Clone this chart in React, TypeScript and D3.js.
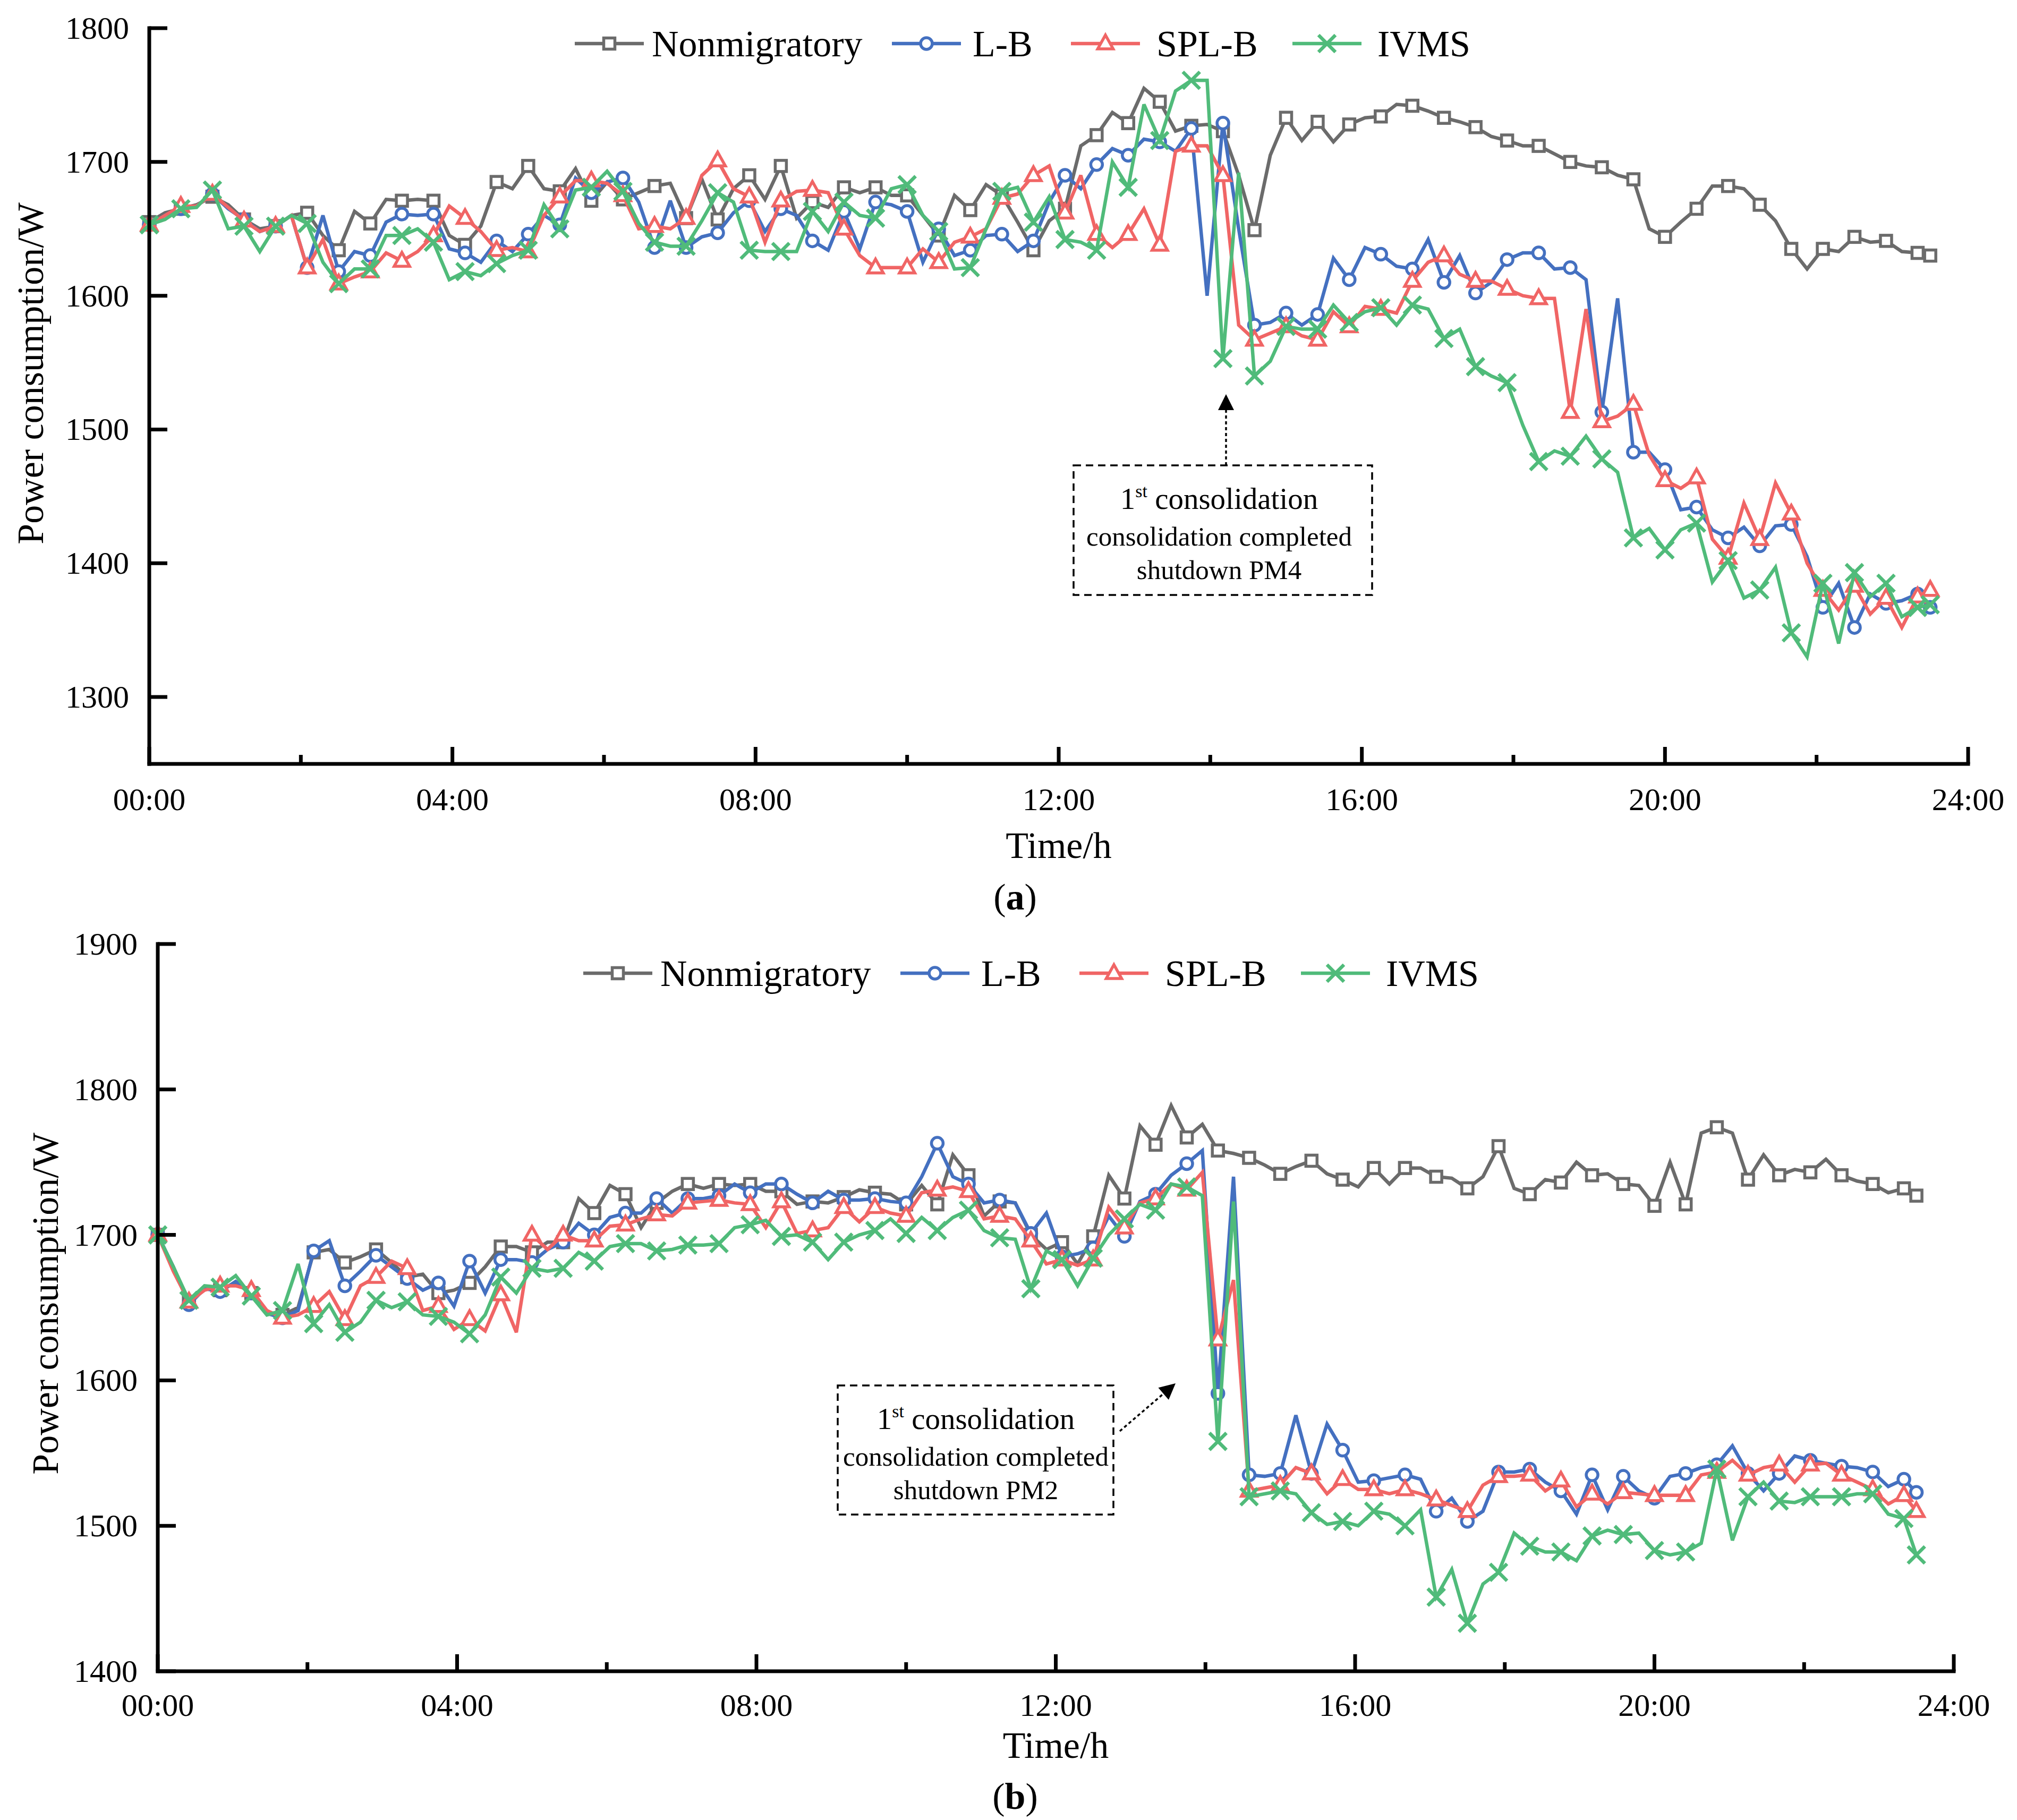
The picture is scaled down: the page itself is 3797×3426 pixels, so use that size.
import React from "react";
import * as d3 from "d3";

// ---------- data ----------
const STEP_MIN = 12.5; // sampling step (minutes)
const LAST_MIN = 1410; // last sample (23:30)
const xTickLabels = ["00:00", "04:00", "08:00", "12:00", "16:00", "20:00", "24:00"];
const seriesNames = ["Nonmigratory", "L-B", "SPL-B", "IVMS"];
const aYTicks = [1300, 1400, 1500, 1600, 1700, 1800];
const bYTicks = [1400, 1500, 1600, 1700, 1800, 1900];

const aNon = [1655,1662,1665,1668,1674,1668,1657,1650,1652,1660,
1662,1645,1634,1663,1654,1672,1671,1672,1671,1645,
1638,1652,1685,1680,1697,1680,1678,1695,1671,1685,
1672,1677,1682,1684,1658,1687,1657,1680,1690,1672,
1697,1658,1670,1666,1681,1677,1681,1675,1675,1660,
1645,1675,1664,1683,1675,1655,1634,1656,1665,1712,
1720,1737,1729,1755,1745,1723,1727,1728,1723,1690,
1649,1705,1733,1716,1730,1715,1728,1733,1734,1743,
1742,1738,1733,1730,1726,1719,1716,1712,1712,1706,
1700,1697,1696,1690,1687,1650,1644,1655,1665,1682,
1682,1680,1668,1656,1635,1620,1635,1633,1644,1640,
1641,1633,1632,1630];
const aLB = [1653,1660,1665,1667,1676,1665,1657,1648,1652,1660,
1621,1660,1618,1633,1630,1655,1661,1660,1661,1635,
1632,1625,1641,1633,1646,1660,1653,1688,1677,1685,
1688,1670,1636,1671,1636,1644,1647,1662,1671,1648,
1665,1660,1641,1634,1663,1635,1670,1668,1663,1625,
1650,1630,1634,1645,1646,1633,1641,1670,1690,1680,
1698,1710,1705,1717,1715,1708,1725,1600,1729,1650,
1578,1580,1587,1578,1586,1628,1612,1636,1631,1622,
1620,1642,1610,1630,1602,1610,1627,1632,1632,1620,
1621,1612,1513,1598,1483,1483,1470,1440,1442,1425,
1419,1427,1413,1428,1429,1405,1367,1385,1352,1377,
1370,1372,1377,1367];
const aSPL = [1653,1660,1667,1667,1676,1666,1656,1648,1652,1660,
1621,1642,1609,1614,1618,1632,1626,1633,1645,1667,
1658,1648,1634,1636,1633,1660,1674,1686,1686,1684,
1675,1650,1652,1650,1658,1690,1701,1680,1674,1640,
1671,1678,1679,1677,1650,1630,1621,1621,1621,1635,
1625,1640,1644,1650,1673,1676,1690,1697,1662,1690,
1646,1636,1646,1665,1638,1708,1712,1712,1690,1578,
1567,1572,1577,1570,1567,1588,1577,1592,1590,1587,
1611,1625,1630,1616,1611,1611,1605,1600,1598,1598,
1513,1590,1506,1510,1519,1481,1462,1456,1464,1418,
1404,1445,1418,1460,1437,1400,1380,1365,1383,1362,
1374,1352,1375,1380];
const aIVMS = [1653,1657,1665,1666,1679,1650,1652,1633,1652,1660,
1654,1625,1609,1620,1620,1645,1645,1650,1640,1612,
1618,1615,1624,1630,1634,1668,1650,1679,1681,1693,
1678,1654,1640,1637,1637,1656,1677,1670,1634,1633,
1633,1633,1663,1648,1670,1660,1658,1680,1683,1660,
1648,1620,1621,1650,1678,1681,1655,1674,1642,1640,
1634,1700,1681,1743,1716,1753,1761,1761,1553,1692,
1540,1551,1577,1575,1575,1593,1580,1588,1591,1578,
1593,1590,1568,1575,1547,1540,1535,1503,1476,1484,
1480,1495,1478,1468,1419,1426,1410,1425,1430,1386,
1402,1374,1380,1397,1348,1330,1385,1340,1393,1375,
1385,1360,1367,1369];

const bNon = [1700,1678,1654,1663,1662,1667,1660,1646,1645,1650,
1688,1690,1681,1685,1690,1681,1671,1673,1660,1662,
1667,1678,1692,1692,1688,1695,1695,1725,1715,1734,
1728,1705,1722,1730,1735,1732,1735,1734,1735,1730,
1730,1721,1723,1722,1726,1731,1729,1728,1721,1734,
1721,1755,1741,1713,1723,1722,1700,1690,1695,1680,
1699,1741,1725,1775,1762,1789,1767,1776,1758,1756,
1753,1748,1742,1747,1751,1742,1738,1733,1746,1735,
1746,1746,1740,1739,1732,1740,1761,1732,1728,1738,
1736,1750,1741,1742,1735,1734,1720,1750,1721,1770,
1774,1770,1738,1755,1741,1745,1743,1752,1741,1737,
1735,1729,1732,1727];
const bLB = [1700,1678,1652,1663,1661,1668,1660,1646,1643,1648,
1689,1696,1665,1675,1686,1678,1670,1662,1667,1651,
1682,1660,1683,1683,1681,1690,1695,1708,1700,1712,
1715,1715,1725,1715,1725,1725,1727,1735,1729,1735,
1735,1728,1722,1730,1724,1724,1725,1723,1722,1740,
1763,1740,1735,1722,1724,1722,1701,1715,1685,1687,
1691,1713,1699,1723,1728,1741,1749,1758,1591,1740,
1535,1534,1536,1576,1536,1570,1552,1530,1531,1533,
1535,1532,1510,1519,1503,1510,1537,1537,1539,1530,
1524,1508,1535,1511,1534,1524,1519,1534,1536,1540,
1542,1555,1536,1524,1536,1548,1545,1543,1541,1540,
1537,1527,1532,1523];
const bSPL = [1700,1675,1654,1662,1665,1665,1662,1648,1643,1645,
1651,1661,1642,1665,1671,1682,1677,1648,1651,1635,
1642,1634,1659,1633,1700,1690,1700,1696,1696,1706,
1707,1711,1714,1713,1722,1723,1724,1722,1721,1705,
1723,1701,1703,1705,1719,1709,1719,1715,1713,1729,
1731,1733,1730,1711,1713,1711,1696,1680,1683,1679,
1683,1719,1705,1722,1725,1735,1731,1743,1628,1669,
1524,1526,1528,1540,1536,1522,1532,1525,1525,1522,
1525,1522,1518,1514,1510,1528,1534,1534,1535,1524,
1531,1513,1522,1515,1523,1522,1521,1521,1521,1535,
1537,1545,1535,1540,1542,1530,1542,1543,1535,1530,
1525,1515,1521,1510];
const bIVMS = [1700,1678,1655,1665,1664,1672,1658,1645,1648,1680,
1639,1652,1633,1640,1655,1650,1654,1645,1644,1640,
1632,1645,1671,1660,1677,1675,1677,1688,1682,1692,
1694,1694,1689,1690,1693,1693,1694,1705,1707,1710,
1699,1700,1695,1683,1695,1700,1703,1711,1701,1712,
1703,1712,1717,1703,1698,1697,1663,1689,1683,1665,
1684,1700,1711,1721,1717,1735,1733,1727,1558,1723,
1520,1522,1524,1522,1509,1501,1503,1500,1510,1508,
1500,1511,1451,1470,1433,1460,1468,1495,1486,1482,
1482,1476,1493,1497,1494,1495,1483,1480,1482,1488,
1539,1490,1520,1530,1517,1516,1520,1520,1520,1522,
1522,1508,1505,1480];

// ---------- styling ----------
const FONT = "'Liberation Serif', 'Times New Roman', Times, serif";
const COLORS = ["#6B6B6B", "#4470C0", "#F06565", "#50BB7A"];
const SHAPES = ["square", "circle", "triangle", "cross"];
const LINE_W = 6.5;

const N = aNon.length;
const T = d3.range(N).map((i) => (i === N - 1 ? LAST_MIN : i * STEP_MIN) / 60);

function Marker({ shape, color, cx, cy }: { shape: string; color: string; cx: number; cy: number }) {
  const sw = 5.5;
  if (shape === "square")
    return <rect x={cx - 10.5} y={cy - 10.5} width={21} height={21} fill="#fff" stroke={color} strokeWidth={sw} />;
  if (shape === "circle") return <circle cx={cx} cy={cy} r={11} fill="#fff" stroke={color} strokeWidth={sw} />;
  if (shape === "triangle")
    return (
      <polygon
        points={`${cx},${cy - 16} ${cx + 14.5},${cy + 10} ${cx - 14.5},${cy + 10}`}
        fill="#fff"
        stroke={color}
        strokeWidth={sw}
        strokeLinejoin="miter"
      />
    );
  const s = 16;
  return (
    <g stroke={color} strokeWidth={6.5} strokeLinecap="butt">
      <line x1={cx - s} y1={cy - s} x2={cx + s} y2={cy + s} />
      <line x1={cx - s} y1={cy + s} x2={cx + s} y2={cy - s} />
    </g>
  );
}

type PanelCfg = {
  series: number[][];
  yDomain: [number, number];
  yTicks: number[];
  left: number;
  right: number;
  top: number;
  bottom: number;
  legendY: number;
  yTitleX: number;
  yTitleY: number;
  xTitleY: number;
  xTickY: number;
  label: string;
  labelY: number;
  box: { x: number; y: number; w: number; h: number; cx: number; pm: string };
  arrow: { x1: number; y1: number; x2: number; y2: number };
};

function Panel({ cfg }: { cfg: PanelCfg }) {
  const x = d3.scaleLinear().domain([0, 24]).range([cfg.left, cfg.right]);
  const y = d3.scaleLinear().domain(cfg.yDomain).range([cfg.bottom, cfg.top]);
  const line = d3
    .line<number>()
    .x((_d, i) => x(T[i]))
    .y((d) => y(d));
  const majorX = d3.range(0, 25, 4);
  const minorX = d3.range(2, 24, 4);
  const legendLine = [801, 1398, 1735, 2152];
  const legendText = [145, 152, 161, 160];
  const { box, arrow } = cfg;
  const ang = Math.atan2(arrow.y2 - arrow.y1, arrow.x2 - arrow.x1);
  const ahL = 30,
    ahW = 15;
  const bx = arrow.x2 - ahL * Math.cos(ang),
    by = arrow.y2 - ahL * Math.sin(ang);
  const px = -Math.sin(ang) * ahW,
    py = Math.cos(ang) * ahW;

  return (
    <g>
      {/* series */}
      {cfg.series.map((s, k) => (
        <g key={k}>
          <path d={line(s) || ""} fill="none" stroke={COLORS[k]} strokeWidth={LINE_W} strokeLinejoin="miter" strokeMiterlimit={3} />
          {s.map((v, i) =>
            i % 2 === 0 || i === s.length - 1 ? (
              <Marker key={i} shape={SHAPES[k]} color={COLORS[k]} cx={x(T[i])} cy={y(v)} />
            ) : null
          )}
        </g>
      ))}

      {/* axes */}
      <line x1={cfg.left} y1={cfg.top - 3.5} x2={cfg.left} y2={cfg.bottom + 3.5} stroke="#000" strokeWidth={7} />
      <line x1={cfg.left - 3.5} y1={cfg.bottom} x2={cfg.right + 3.5} y2={cfg.bottom} stroke="#000" strokeWidth={7} />
      {cfg.yTicks.map((t) => (
        <g key={t}>
          <line x1={cfg.left} x2={cfg.left + 34} y1={y(t)} y2={y(t)} stroke="#000" strokeWidth={7} />
          <text x={cfg.left - 38} y={y(t)} textAnchor="end" dominantBaseline="central" fontSize={60} fontFamily={FONT}>
            {t}
          </text>
        </g>
      ))}
      {majorX.map((h, i) => (
        <g key={h}>
          <line x1={x(h)} x2={x(h)} y1={cfg.bottom} y2={cfg.bottom - 32} stroke="#000" strokeWidth={7} />
          <text x={x(h)} y={cfg.xTickY} textAnchor="middle" dominantBaseline="central" fontSize={60} fontFamily={FONT}>
            {xTickLabels[i]}
          </text>
        </g>
      ))}
      {minorX.map((h) => (
        <line key={h} x1={x(h)} x2={x(h)} y1={cfg.bottom} y2={cfg.bottom - 17} stroke="#000" strokeWidth={7} />
      ))}

      {/* titles */}
      <text
        transform={`translate(${cfg.yTitleX},${cfg.yTitleY}) rotate(-90)`}
        textAnchor="middle"
        dominantBaseline="central"
        fontSize={70}
        fontFamily={FONT}
      >
        Power consumption/W
      </text>
      <text x={(cfg.left + cfg.right) / 2} y={cfg.xTitleY} textAnchor="middle" dominantBaseline="central" fontSize={70} fontFamily={FONT}>
        Time/h
      </text>
      <text x={1911} y={cfg.labelY} textAnchor="middle" dominantBaseline="central" fontSize={70} fontFamily={FONT}>
        (<tspan fontWeight="bold">{cfg.label}</tspan>)
      </text>

      {/* legend */}
      {seriesNames.map((name, k) => {
        const x0 = cfg.left + legendLine[k];
        return (
          <g key={name}>
            <line x1={x0} x2={x0 + 130} y1={cfg.legendY} y2={cfg.legendY} stroke={COLORS[k]} strokeWidth={LINE_W} />
            <Marker shape={SHAPES[k]} color={COLORS[k]} cx={x0 + 65} cy={cfg.legendY} />
            <text x={x0 + legendText[k]} y={cfg.legendY} dominantBaseline="central" fontSize={70} fontFamily={FONT}>
              {name}
            </text>
          </g>
        );
      })}

      {/* annotation */}
      <rect x={box.x} y={box.y} width={box.w} height={box.h} fill="#fff" stroke="#000" strokeWidth={3.5} strokeDasharray="14,9" />
      <text x={box.cx} y={box.y + 82} textAnchor="middle" fontSize={57} fontFamily={FONT}>
        1<tspan fontSize={34} dy={-22}>st</tspan>
        <tspan dy={22}> consolidation</tspan>
      </text>
      <text x={box.cx} y={box.y + 151} textAnchor="middle" fontSize={51} fontFamily={FONT}>
        consolidation completed
      </text>
      <text x={box.cx} y={box.y + 214} textAnchor="middle" fontSize={51} fontFamily={FONT}>
        {`shutdown ${box.pm}`}
      </text>
      <line x1={arrow.x1} y1={arrow.y1} x2={bx} y2={by} stroke="#000" strokeWidth={3.5} strokeDasharray="6,5" />
      <polygon points={`${arrow.x2},${arrow.y2} ${bx + px},${by + py} ${bx - px},${by - py}`} fill="#000" />
    </g>
  );
}

const panelA: PanelCfg = {
  series: [aNon, aLB, aSPL, aIVMS],
  yDomain: [1250, 1800],
  yTicks: aYTicks,
  left: 281,
  right: 3705,
  top: 53,
  bottom: 1438,
  legendY: 82,
  yTitleX: 57,
  yTitleY: 703,
  xTitleY: 1591,
  xTickY: 1505,
  label: "a",
  labelY: 1688,
  box: { x: 2021, y: 876, w: 562, h: 244, cx: 2295, pm: "PM4" },
  arrow: { x1: 2308, y1: 876, x2: 2308, y2: 742 },
};

const panelB: PanelCfg = {
  series: [bNon, bLB, bSPL, bIVMS],
  yDomain: [1400, 1900],
  yTicks: bYTicks,
  left: 297,
  right: 3678,
  top: 1777,
  bottom: 3146,
  legendY: 1832,
  yTitleX: 85,
  yTitleY: 2454,
  xTitleY: 3285,
  xTickY: 3210,
  label: "b",
  labelY: 3381,
  box: { x: 1577, y: 2608, w: 519, h: 243, cx: 1837, pm: "PM2" },
  arrow: { x1: 2108, y1: 2694, x2: 2213, y2: 2604 },
};

export default function App() {
  return (
    <svg
      width={3797}
      height={3426}
      viewBox="0 0 3797 3426"
      style={{ position: "absolute", left: 0, top: 0, background: "#fff" }}
    >
      <rect x={0} y={0} width={3797} height={3426} fill="#fff" />
      <Panel cfg={panelA} />
      <Panel cfg={panelB} />
    </svg>
  );
}
